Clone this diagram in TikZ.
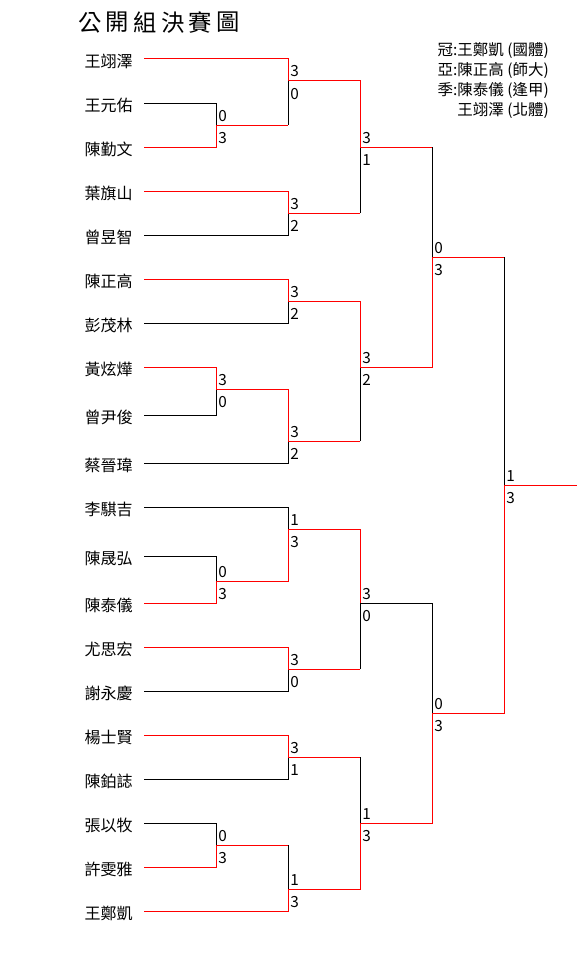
\documentclass[tikz,border=0pt]{standalone}
\usepackage{fontspec}
\setmainfont{Noto Sans CJK TC}
\usepackage{tikz}
\usetikzlibrary{calc,positioning}

\begin{document}
\begin{tikzpicture}[x=0.75pt,y={(0pt,-0.75pt)},
    win/.style={red, line width=0.75pt},
    lose/.style={black, line width=0.75pt},
    player/.style={inner sep=0pt, font=\fontsize{12}{12}\selectfont},
    score/.style={inner sep=0pt, anchor=base west, font=\fontsize{11.5}{12}\selectfont},
    titlechar/.style={inner sep=0pt, font=\fontsize{17.5}{18}\selectfont},
    legend/.style={inner sep=0pt, align=right, font=\fontsize{11.6}{15}\selectfont}]
  \useasboundingbox (0,0) rectangle (577,956);

  % title
  \foreach \c [count=\i] in {公,開,組,決,賽,圖}
    \node[titlechar] (t\i) at (90+27.6*\i-27.6,22.5) {\c};

  % legend
  \node[legend, anchor=north east] (legend) at (549,42)
    {冠:王鄭凱 (國體)\\亞:陳正高 (師大)\\季:陳泰儀 (逢甲)\\王翊澤 (北體)};

  % players
  \foreach \i/\y/\n in {1/59/王翊澤, 2/103/王元佑, 3/147/陳勤文, 4/191/葉旗山,
      5/235/曾昱智, 6/279/陳正高, 7/323/彭茂林, 8/367/黃炫燁, 9/415/曾尹俊,
      10/463/蔡晉瑋, 11/507/李騏吉, 12/556/陳晟弘, 13/603/陳泰儀, 14/647/尤思宏,
      15/691/謝永慶, 16/735/楊士賢, 17/779/陳鉑誌, 18/823/張以牧, 19/867/許雯雅,
      20/911/王鄭凱} {
    \coordinate (p\i) at (144,\y);
    \node[player, anchor=east, left=8.25pt of p\i, yshift=-1.8pt] (n\i) {\n};
  }

  % match points
  \coordinate (a1) at (216,125);
  \coordinate (a2) at (288,81);
  \coordinate (a3) at (288,213);
  \coordinate (a4) at (288,301);
  \coordinate (a5) at (216,389);
  \coordinate (a6) at (288,441);
  \coordinate (a7) at (216,581);
  \coordinate (a8) at (288,529);
  \coordinate (a9) at (288,669);
  \coordinate (a10) at (288,757);
  \coordinate (a11) at (216,845);
  \coordinate (a12) at (288,889);
  \coordinate (b1) at (360,147);
  \coordinate (b2) at (360,367);
  \coordinate (b3) at (360,603);
  \coordinate (b4) at (360,823);
  \coordinate (c1) at (432,257);
  \coordinate (c2) at (432,713);
  \coordinate (d1) at (504,485);
  \coordinate (champ) at (577,485);

  % first round
  \draw[lose] (p2) -| (a1);
  \draw[win] (p3) -| (a1);
  \draw[win] (p1) -| (a2);
  \draw[win] (a1) -- (a1 -| a2);
  \draw[lose] (a1 -| a2) -- (a2);
  \draw[win] (p4) -| (a3);
  \draw[lose] (p5) -| (a3);
  \draw[win] (p6) -| (a4);
  \draw[lose] (p7) -| (a4);
  \draw[win] (p8) -| (a5);
  \draw[lose] (p9) -| (a5);
  \draw[win] (a5) -| (a6);
  \draw[lose] (p10) -| (a6);
  \draw[lose] (p11) -| (a8);
  \draw[lose] (p12) -| (a7);
  \draw[win] (p13) -| (a7);
  \draw[win] (a7) -| (a8);
  \draw[win] (p14) -| (a9);
  \draw[lose] (p15) -| (a9);
  \draw[win] (p16) -| (a10);
  \draw[lose] (p17) -| (a10);
  \draw[lose] (p18) -| (a11);
  \draw[win] (p19) -| (a11);
  \draw[win] (a11) -- (a11 -| a12);
  \draw[lose] (a11 -| a12) -- (a12);
  \draw[win] (p20) -| (a12);

  % later rounds
  \draw[win] (a2) -| (b1);
  \draw[win] (a3) -- (a3 -| b1);
  \draw[lose] (a3 -| b1) -- (b1);
  \draw[win] (a4) -| (b2);
  \draw[win] (a6) -- (a6 -| b2);
  \draw[lose] (a6 -| b2) -- (b2);
  \draw[win] (a8) -| (b3);
  \draw[win] (a9) -- (a9 -| b3);
  \draw[lose] (a9 -| b3) -- (b3);
  \draw[win] (a10) -- (a10 -| b4);
  \draw[lose] (a10 -| b4) -- (b4);
  \draw[win] (a12) -| (b4);
  \draw[win] (b1) -- (b1 -| c1);
  \draw[lose] (b1 -| c1) -- (c1);
  \draw[win] (b2) -| (c1);
  \draw[lose] (b3) -| (c2);
  \draw[win] (b4) -| (c2);
  \draw[win] (c1) -- (c1 -| d1);
  \draw[lose] (c1 -| d1) -- (d1);
  \draw[win] (c2) -| (d1);
  \draw[win] (d1) -- (champ);

  % scores
  \foreach \j/\t/\b in {a1/0/3, a2/3/0, a3/3/2, a4/3/2, a5/3/0, a6/3/2, a7/0/3,
      a8/1/3, a9/3/0, a10/3/1, a11/0/3, a12/1/3, b1/3/1, b2/3/2, b3/3/0,
      b4/1/3, c1/0/3, c2/0/3, d1/1/3} {
    \node[score] (\j-t) at ($(\j)+(2,-4)$) {\t};
    \node[score] (\j-b) at ($(\j)+(2,18)$) {\b};
  }
\end{tikzpicture}
\end{document}
